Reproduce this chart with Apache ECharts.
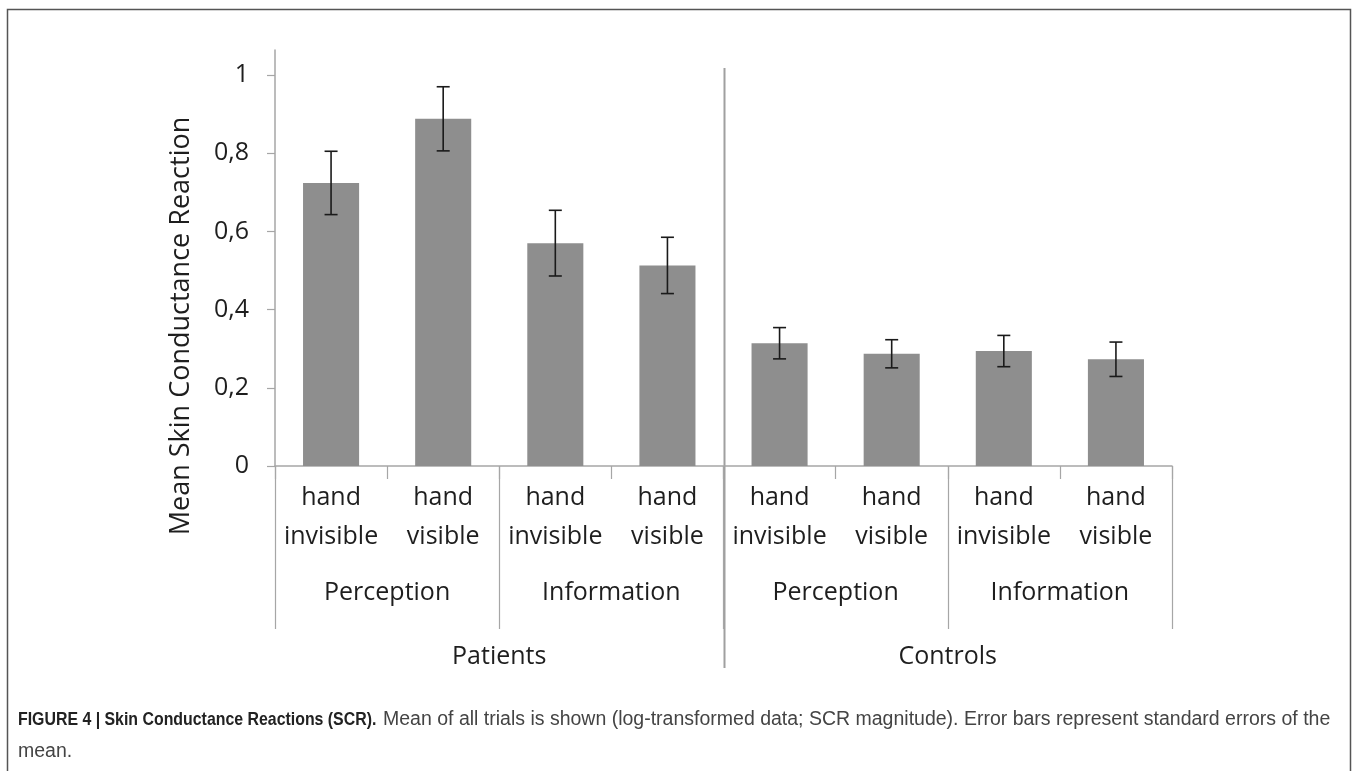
<!DOCTYPE html>
<html>
<head>
<meta charset="utf-8">
<script src="https://cdn.jsdelivr.net/npm/echarts@6/dist/echarts.min.js"></script>
<style>
  html, body { margin: 0; padding: 0; background: #ffffff; }
  #chart { width: 1357px; height: 771px; }
</style>
</head>
<body>
<div id="chart"></div>
<script>
// Condition labels (innermost level of the category axis)
const conditions = ['hand\ninvisible', 'hand\nvisible', 'hand\ninvisible', 'hand\nvisible',
                    'hand\ninvisible', 'hand\nvisible', 'hand\ninvisible', 'hand\nvisible'];
// Task level and group level of the category axis
const tasks = ['Perception', 'Information', 'Perception', 'Information'];
const groups = ['Patients', 'Controls'];
// Mean skin conductance reaction per condition and its standard error
const meanSCR = [0.724, 0.888, 0.570, 0.513, 0.314, 0.287, 0.294, 0.273];
const seSCR   = [0.081, 0.082, 0.084, 0.072, 0.040, 0.036, 0.040, 0.044];
// Value-axis tick labels
const yTicks = [0, 0.2, 0.4, 0.6, 0.8, 1];

const axisGray = '#a6a6a6';
const textDark = '#1e1e1e';
const font = 'Open Sans';

const chart = echarts.init(document.getElementById('chart'), null, { renderer: 'canvas' });

const option = {
  backgroundColor: '#ffffff',
  animation: false,
  grid: { left: 275, right: 185, top: 50, bottom: 305, containLabel: false },
  xAxis: [
    {
      type: 'category',
      data: conditions,
      position: 'bottom',
      axisLine: { show: true, lineStyle: { color: axisGray, width: 1.5 } },
      axisTick: { show: true, length: 13, lineStyle: { color: axisGray, width: 1.2 } },
      axisLabel: { interval: 0, fontFamily: font, fontSize: 25, lineHeight: 39, color: textDark, margin: 12 },
      splitLine: { show: false }
    },
    {
      type: 'category',
      data: tasks,
      position: 'bottom',
      axisLine: { show: false },
      axisTick: { show: true, length: 163, lineStyle: { color: axisGray, width: 1.2 } },
      axisLabel: { interval: 0, fontFamily: font, fontSize: 25, lineHeight: 30, color: textDark, margin: 112 },
      splitLine: { show: false }
    },
    {
      type: 'category',
      data: groups,
      position: 'bottom',
      axisLine: { show: false },
      axisTick: { show: false },
      axisLabel: { interval: 0, fontFamily: font, fontSize: 25, lineHeight: 30, color: textDark, margin: 176 },
      splitLine: { show: false }
    }
  ],
  yAxis: {
    type: 'value',
    min: 0,
    max: 1.064,
    axisLine: { show: true, lineStyle: { color: axisGray, width: 1.5 } },
    axisTick: { show: true, length: 8, customValues: yTicks, lineStyle: { color: axisGray, width: 1.2 } },
    axisLabel: {
      customValues: yTicks,
      fontFamily: font, fontSize: 25, color: textDark, margin: 26,
      formatter: v => String(Math.round(v * 10) / 10).replace('.', ',')
    },
    splitLine: { show: false }
  },
  series: [
    {
      type: 'bar',
      xAxisIndex: 0,
      data: meanSCR,
      barWidth: '50%',
      itemStyle: { color: '#8e8e8e' },
      z: 2
    },
    {
      type: 'custom',
      xAxisIndex: 0,
      data: meanSCR.map((m, i) => [i, m, seSCR[i]]),
      encode: { x: 0, y: 1 },
      z: 3,
      renderItem: function (params, api) {
        const i = api.value(0);
        const m = api.value(1);
        const se = api.value(2);
        const hi = api.coord([i, m + se]);
        const lo = api.coord([i, m - se]);
        const hw = 6.5;
        const style = { stroke: '#1a1a1a', lineWidth: 1.6 };
        return {
          type: 'group',
          children: [
            { type: 'line', shape: { x1: hi[0], y1: hi[1], x2: lo[0], y2: lo[1] }, style: style },
            { type: 'line', shape: { x1: hi[0] - hw, y1: hi[1], x2: hi[0] + hw, y2: hi[1] }, style: style },
            { type: 'line', shape: { x1: lo[0] - hw, y1: lo[1], x2: lo[0] + hw, y2: lo[1] }, style: style }
          ]
        };
      }
    }
  ]
};

chart.setOption(option);

// Vertical divider between the Patients and Controls halves, placed from the group axis
const pPat = chart.convertToPixel({ xAxisIndex: 2 }, 'Patients');
const pCon = chart.convertToPixel({ xAxisIndex: 2 }, 'Controls');
const divX = Math.round((pPat + pCon) / 2) + 0.5;

chart.setOption({
  graphic: [
    {
      type: 'rect',
      shape: { x: 7.5, y: 9.5, width: 1343, height: 820 },
      style: { fill: 'none', stroke: '#555555', lineWidth: 1.5 },
      silent: true
    },
    {
      type: 'line',
      shape: { x1: divX, y1: 68, x2: divX, y2: 668 },
      style: { stroke: '#a0a0a0', lineWidth: 2 },
      silent: true
    },
    {
      type: 'text',
      x: 181, y: 326,
      rotation: Math.PI / 2,
      style: {
        text: 'Mean Skin Conductance Reaction',
        fontFamily: font, fontSize: 27, fill: textDark,
        align: 'center', verticalAlign: 'middle'
      },
      silent: true
    },
    // Caption: condensed bold lead-in followed by the regular description
    {
      type: 'text',
      x: 18, y: 720,
      scaleX: 0.836,
      style: {
        text: 'FIGURE 4 | Skin Conductance Reactions (SCR).',
        verticalAlign: 'middle',
        fontFamily: 'Liberation Sans', fontWeight: 'bold', fontSize: 19, fill: '#222222'
      },
      silent: true
    },
    {
      type: 'text',
      x: 383, y: 720,
      style: {
        text: 'Mean of all trials is shown (log-transformed data; SCR magnitude). Error bars represent standard errors of the',
        verticalAlign: 'middle',
        fontFamily: 'Liberation Sans', fontSize: 19.5, fill: '#444444'
      },
      silent: true
    },
    {
      type: 'text',
      x: 18, y: 752,
      style: {
        text: 'mean.',
        verticalAlign: 'middle',
        fontFamily: 'Liberation Sans', fontSize: 19.5, fill: '#444444'
      },
      silent: true
    }
  ]
});
</script>
</body>
</html>
